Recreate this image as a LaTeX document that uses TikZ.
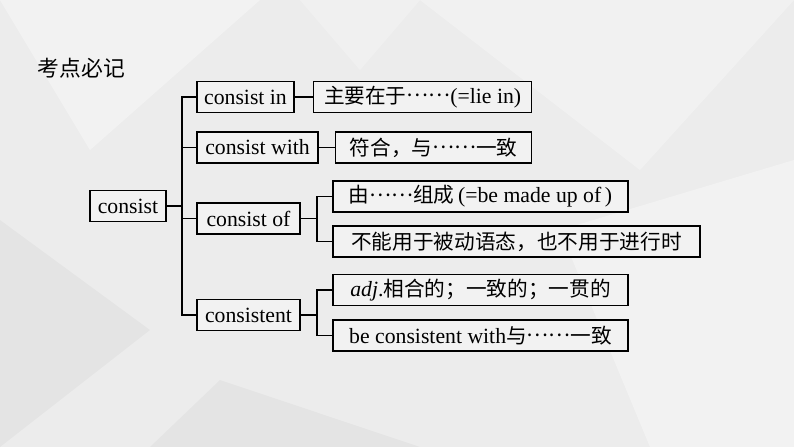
\documentclass[tikz,border=0pt]{standalone}
\usepackage{fontspec}
\setmainfont{Liberation Serif}
\newfontfamily\cjk[Scale=0.95]{Noto Sans CJK SC}
\usetikzlibrary{positioning}
\definecolor{bggray}{RGB}{236,236,236}
\definecolor{boxgray}{RGB}{242,242,242}
\newcommand\dotsix{\raisebox{0.3em}{\cjk……}}

\begin{document}
\begin{tikzpicture}[x=0.75pt,y=-0.75pt,every node/.append style={align=center,font=\fontsize{16.3}{19}\selectfont},word/.style={draw,line width=1.2pt,fill=boxgray,minimum height=23.25pt,inner sep=2pt},mean/.style={word},link/.style={line width=1.1pt},]
    \useasboundingbox (0,0) rectangle (794,447);
    \fill[bggray] (0,0) rectangle (794,447);
    % background facets
    \fill[white,opacity=0.35] (0,0) -- (260,0) -- (90,150) -- cycle;
    \fill[white,opacity=0.30] (420,0) -- (794,0) -- (640,170) -- cycle;
    \fill[black,opacity=0.03] (0,220) -- (150,330) -- (0,447) -- cycle;
    \fill[white,opacity=0.35] (560,230) -- (794,160) -- (794,447) -- (650,447) -- cycle;
    \fill[black,opacity=0.03] (220,380) -- (420,447) -- (150,447) -- cycle;
    \fill[white,opacity=0.25] (300,0) -- (420,0) -- (360,70) -- cycle;

    \node[anchor=west,font=\fontsize{17.2}{20}\selectfont\cjk] (title) at (33,68) {考点必记};

    \node [word, minimum width=57pt] (consist) at (128,206)       {consist};
    \node [word, minimum width=72.75pt] (cin) at (245.5,97)       {consist in};
    \node [word, minimum width=90.75pt] (cwith) at (257.5,147.5)  {consist with};
    \node [word, minimum width=77.25pt] (cof) at (248.5,218.5)    {consist of};
    \node [word, minimum width=77.25pt] (cent) at (248.5,315)     {consistent};

    \node [mean, minimum width=163.5pt, right=13.5pt of cin] (lie)   {{\cjk 主要在于}\dotsix(=lie in)};
    \node [mean, minimum width=147pt, right=12pt of cwith] (agree)   {{\cjk 符合，与}\dotsix{\cjk 一致}};
    \node [mean, minimum width=221.25pt] (made) at (480.5,196.5)     {{\cjk 由}\dotsix{\cjk 组成}\,(=be made up of\,)};
    \node [mean, minimum width=275.25pt] (nopass) at (516.5,241.5)   {\cjk 不能用于被动语态，也不用于进行时};
    \node [mean, minimum width=221.25pt] (adj) at (480.5,290)        {\textit{adj}.{\cjk 相合的；一致的；一贯的}};
    \node [mean, minimum width=221.25pt] (bewith) at (480.5,335.5)   {be consistent with{\cjk 与}\dotsix{\cjk 一致}};

    % trunk
    \coordinate (b0) at (182,206);
    \draw[link] (consist.east) -- (b0);
    \draw[link] (cin.west) -| (b0) |- (cent.west);
    \draw[link] (cwith.west) -- (cwith.west -| b0);
    \draw[link] (cof.west) -- (cof.west -| b0);

    \draw[link] (cin) -- (lie);
    \draw[link] (cwith) -- (agree);

    % consist of
    \coordinate (b1) at (317,218.5);
    \draw[link] (cof.east) -- (b1);
    \draw[link] (made.west) -| (b1) |- (nopass.west);
    % consistent
    \coordinate (b2) at (317,315);
    \draw[link] (cent.east) -- (b2);
    \draw[link] (adj.west) -| (b2) |- (bewith.west);
\end{tikzpicture}
\end{document}
